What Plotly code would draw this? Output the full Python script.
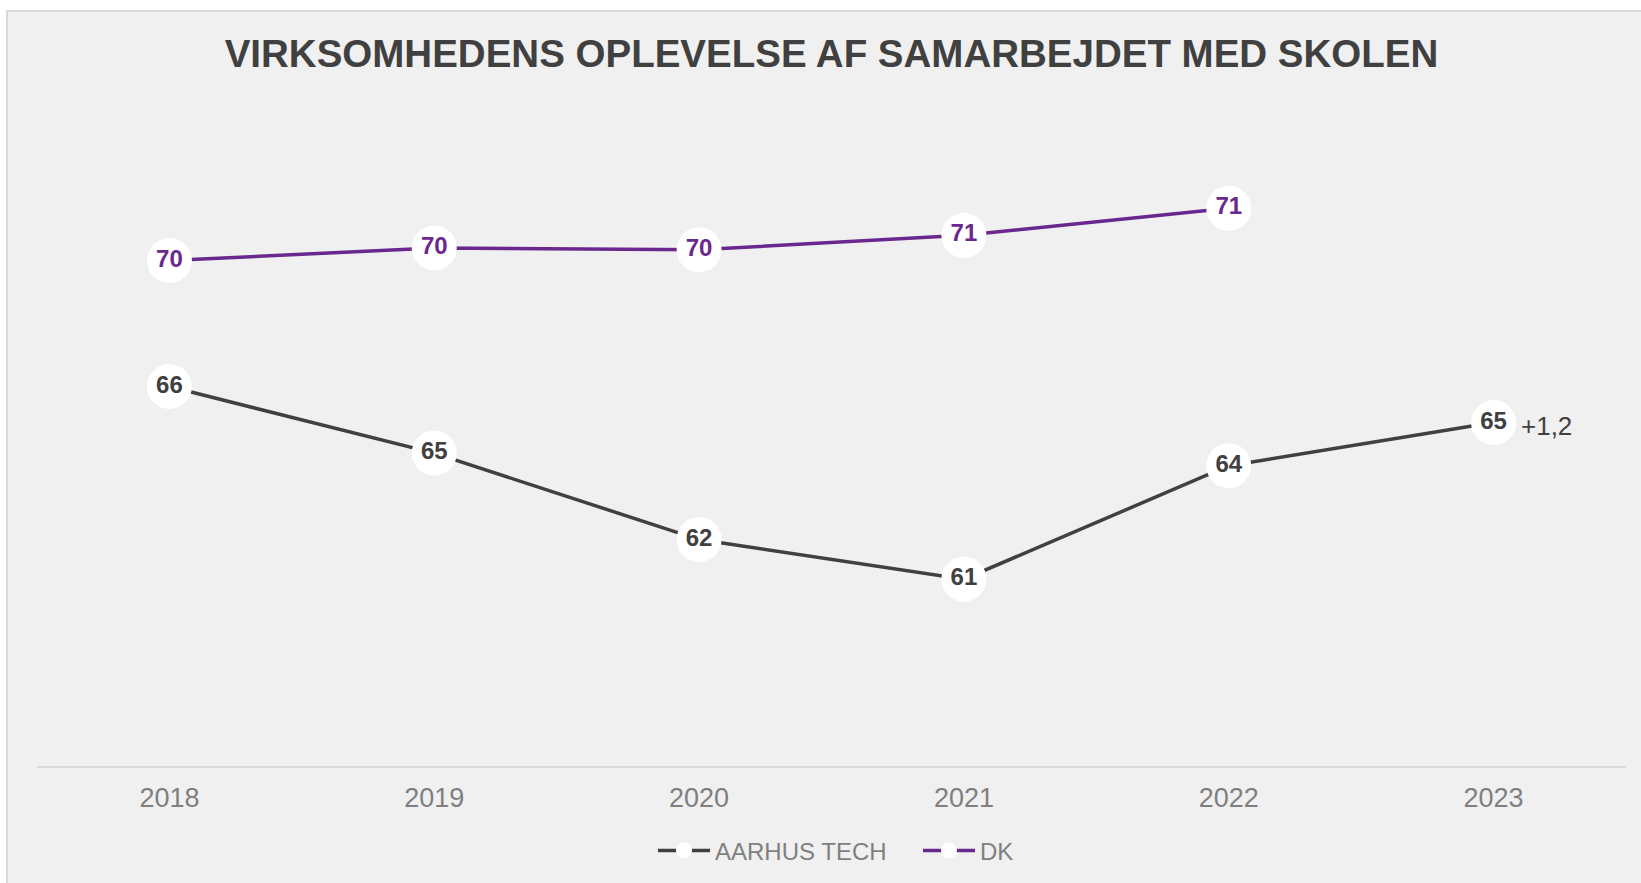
import plotly.graph_objects as go

# ---- data ----
years = ["2018", "2019", "2020", "2021", "2022", "2023"]
aarhus_tech = [66.4, 64.55, 62.15, 61.05, 64.2, 65.4]
dk_years = ["2018", "2019", "2020", "2021", "2022"]
dk = [69.9, 70.25, 70.2, 70.6, 71.35]
title_text = "VIRKSOMHEDENS OPLEVELSE AF SAMARBEJDET MED SKOLEN"

# ---- style ----
W, H = 1641, 883
ML, MR, MT, MB = 37, 15, 100, 117
Y_MIN = 55.86
PX_PER_UNIT = 36.0
Y_MAX = Y_MIN + (H - MT - MB) / PX_PER_UNIT

DARK = "#404040"
PURPLE = "#6A288F"
FONT = "Liberation Sans, Arial, sans-serif"

fig = go.Figure()

fig.add_trace(go.Scatter(
    x=years, y=aarhus_tech, name="AARHUS TECH",
    mode="lines+markers+text",
    line=dict(color=DARK, width=3.5),
    marker=dict(size=45, color="white", line=dict(width=0)),
    texttemplate="%{y:.0f}", textposition="middle center",
    textfont=dict(family=FONT, size=24, color=DARK, weight="bold"),
    hoverinfo="skip",
))
fig.add_trace(go.Scatter(
    x=dk_years, y=dk, name="DK",
    mode="lines+markers+text",
    line=dict(color=PURPLE, width=3.5),
    marker=dict(size=45, color="white", line=dict(width=0)),
    texttemplate="%{y:.0f}", textposition="middle center",
    textfont=dict(family=FONT, size=24, color=PURPLE, weight="bold"),
    hoverinfo="skip",
))

diff = aarhus_tech[-1] - aarhus_tech[-2]
diff_text = f"{diff:+.1f}".replace(".", ",")
fig.add_annotation(
    x=len(years) - 1, y=aarhus_tech[-1], xref="x", yref="y",
    text=diff_text, showarrow=False,
    xanchor="center", yanchor="middle", xshift=53, yshift=-3,
    font=dict(family=FONT, size=26, color=DARK),
)

# background box
pw = W - ML - MR
ph = H - MT - MB
fig.add_shape(
    type="rect", xref="paper", yref="paper", layer="below",
    x0=(7 - ML) / pw, x1=(W + 10 - ML) / pw,
    y0=-(MB + 10) / ph, y1=(H - MB - 11) / ph,
    fillcolor="#F0F0F0", line=dict(color="#D9D9D9", width=2),
)

fig.update_layout(
    width=W, height=H,
    margin=dict(l=ML, r=MR, t=MT, b=MB, pad=0),
    paper_bgcolor="white", plot_bgcolor="rgba(0,0,0,0)",
    font=dict(family=FONT, color=DARK),
    title=dict(
        text=title_text, x=0.5, xref="paper", xanchor="center",
        y=1 - 54 / H, yref="container", yanchor="middle",
        font=dict(family=FONT, size=38.5, color=DARK, weight="bold"),
    ),
    xaxis=dict(
        type="category", range=[-0.5, 5.5], showgrid=False, zeroline=False,
        showline=True, linecolor="#D9D9D9", linewidth=1.5, ticks="",
        tickfont=dict(family=FONT, size=27, color="#7F7F7F"),
        ticklabelstandoff=7, fixedrange=True,
    ),
    yaxis=dict(range=[Y_MIN, Y_MAX], visible=False, fixedrange=True),
    legend=dict(
        orientation="h", x=(653 - ML) / pw, xanchor="left", xref="paper",
        y=1 - 851 / H, yref="container", yanchor="middle",
        font=dict(family=FONT, size=24, color="#7F7F7F"),
        bgcolor="rgba(0,0,0,0)", itemwidth=52,
        entrywidth=198, entrywidthmode="pixels",
    ),
    showlegend=True,
)

fig.write_html(
    "out.html",
    config={"displayModeBar": False},
    post_script="document.body.style.margin='0';document.body.style.overflow='hidden';",
)
